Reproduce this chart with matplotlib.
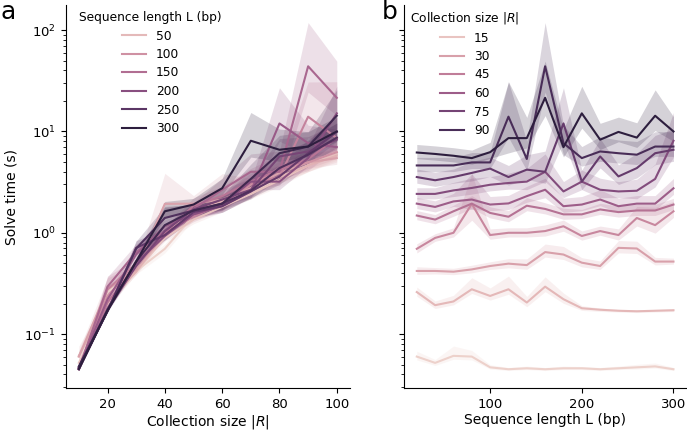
"""Solve time vs collection size / sequence length (two-panel log plot)."""

import matplotlib
matplotlib.use("Agg")
import matplotlib.pyplot as plt
from matplotlib.colors import Normalize
from matplotlib.lines import Line2D
import numpy as np
import seaborn as sns

# ── Data ──────────────────────────────────────────────────────────────────────
coll_size = [10, 20, 30, 40, 50, 60, 70, 80, 90, 100]
seq_len = [20, 40, 60, 80, 100, 120, 140, 160, 180, 200, 220, 240, 260, 280, 300]

# mean solve time (s): rows = collection size, cols = sequence length
solve_time = [
    [0.060, 0.052, 0.061, 0.060, 0.047, 0.045, 0.046, 0.045, 0.046, 0.046, 0.045, 0.046, 0.047, 0.048, 0.045],
    [0.26, 0.193, 0.21, 0.277, 0.238, 0.277, 0.205, 0.294, 0.221, 0.180, 0.174, 0.170, 0.168, 0.170, 0.172],
    [0.42, 0.42, 0.413, 0.435, 0.47, 0.496, 0.48, 0.645, 0.61, 0.507, 0.47, 0.71, 0.70, 0.52, 0.52],
    [0.695, 0.89, 1.0, 1.93, 0.95, 1.0, 1.0, 1.04, 1.16, 0.93, 1.04, 0.95, 1.4, 1.19, 1.63],
    [1.48, 1.35, 1.63, 1.94, 1.57, 1.44, 1.85, 1.72, 1.52, 1.52, 1.70, 1.60, 1.66, 1.66, 1.90],
    [1.94, 1.80, 2.04, 2.13, 1.90, 1.95, 2.30, 2.66, 1.83, 1.90, 2.13, 1.83, 1.94, 1.94, 2.75],
    [2.42, 2.42, 2.62, 2.77, 2.98, 3.10, 3.20, 4.00, 2.56, 3.20, 2.66, 2.56, 2.60, 3.40, 8.10],
    [3.55, 3.30, 3.55, 3.90, 4.30, 3.55, 4.20, 4.00, 12.0, 3.20, 5.67, 3.60, 4.35, 6.10, 6.60],
    [4.62, 4.62, 4.62, 4.95, 4.95, 14.0, 5.35, 44.0, 7.67, 5.46, 6.35, 6.10, 5.90, 7.10, 7.10],
    [6.20, 6.00, 5.76, 5.46, 6.25, 8.60, 8.60, 21.5, 7.00, 15.1, 8.30, 9.90, 8.70, 14.3, 10.0],
]

# 95% CI band: upper = mean * ci_hi, lower = mean / ci_lo
ci_hi = [
    [1.13, 1.08, 1.25, 1.15, 1.06, 1.04, 1.05, 1.04, 1.05, 1.04, 1.04, 1.05, 1.07, 1.08, 1.04],
    [1.12, 1.10, 1.15, 1.30, 1.20, 1.35, 1.15, 1.25, 1.15, 1.06, 1.04, 1.03, 1.03, 1.03, 1.03],
    [1.10, 1.08, 1.08, 1.10, 1.10, 1.12, 1.15, 1.20, 1.20, 1.12, 1.12, 1.18, 1.18, 1.10, 1.08],
    [1.12, 1.10, 1.12, 2.00, 1.15, 1.12, 1.12, 1.15, 1.15, 1.12, 1.12, 1.15, 1.30, 1.50, 1.25],
    [1.12, 1.12, 1.15, 1.20, 1.15, 1.15, 1.20, 1.15, 1.15, 1.12, 1.15, 1.15, 1.15, 1.15, 1.15],
    [1.15, 1.15, 1.20, 1.80, 1.20, 1.20, 1.25, 1.30, 1.20, 1.20, 1.25, 1.20, 1.20, 1.20, 1.25],
    [1.15, 1.15, 1.20, 1.25, 1.20, 1.25, 1.35, 1.50, 1.25, 1.30, 1.30, 1.25, 1.30, 1.40, 1.90],
    [1.20, 1.20, 1.20, 1.30, 1.30, 1.30, 1.40, 1.60, 2.25, 1.30, 1.50, 1.30, 1.40, 1.50, 1.60],
    [1.20, 1.20, 1.20, 1.25, 1.25, 2.20, 1.50, 2.70, 1.50, 1.30, 1.40, 1.35, 1.35, 1.40, 1.40],
    [1.20, 1.20, 1.20, 1.20, 1.25, 3.60, 1.60, 2.30, 1.50, 1.85, 1.45, 1.40, 1.40, 1.80, 1.40],
]
ci_lo = [
    [1.08, 1.06, 1.08, 1.08, 1.04, 1.03, 1.03, 1.03, 1.03, 1.03, 1.03, 1.03, 1.04, 1.04, 1.03],
    [1.10, 1.08, 1.08, 1.10, 1.10, 1.12, 1.10, 1.12, 1.10, 1.05, 1.04, 1.03, 1.03, 1.03, 1.03],
    [1.08, 1.07, 1.07, 1.08, 1.08, 1.10, 1.10, 1.12, 1.12, 1.10, 1.08, 1.12, 1.12, 1.08, 1.06],
    [1.10, 1.08, 1.10, 1.45, 1.10, 1.10, 1.10, 1.12, 1.12, 1.10, 1.10, 1.12, 1.20, 1.20, 1.15],
    [1.10, 1.10, 1.12, 1.12, 1.12, 1.12, 1.12, 1.12, 1.12, 1.10, 1.12, 1.12, 1.12, 1.12, 1.12],
    [1.12, 1.12, 1.12, 1.25, 1.15, 1.15, 1.15, 1.20, 1.15, 1.15, 1.15, 1.15, 1.15, 1.15, 1.15],
    [1.12, 1.12, 1.15, 1.15, 1.15, 1.15, 1.20, 1.25, 1.15, 1.20, 1.20, 1.15, 1.20, 1.20, 1.45],
    [1.15, 1.15, 1.15, 1.20, 1.20, 1.20, 1.25, 1.30, 1.50, 1.20, 1.30, 1.20, 1.25, 1.30, 1.30],
    [1.15, 1.15, 1.15, 1.15, 1.15, 1.60, 1.30, 1.80, 1.30, 1.20, 1.25, 1.25, 1.25, 1.25, 1.25],
    [1.15, 1.15, 1.15, 1.15, 1.15, 1.40, 1.25, 1.50, 1.25, 1.40, 1.25, 1.25, 1.25, 1.40, 1.25],
]

legend_L = [50, 100, 150, 200, 250, 300]
legend_R = [15, 30, 45, 60, 75, 90]

FS_LEG = 8.8
FS_LAB = 10
FS_TICK = 9.5
plt.rcParams.update({"font.size": FS_TICK, "font.family": "DejaVu Sans"})

T = np.array(solve_time)
lo = T / np.array(ci_lo)
hi = T * np.array(ci_hi)

cmap = sns.color_palette("ch:", as_cmap=True)
norm_L = Normalize(min(seq_len), max(seq_len))
norm_R = Normalize(min(coll_size), max(coll_size))

fig = plt.figure(figsize=(6.87, 4.32), dpi=100)
ax1 = fig.add_axes([0.096, 0.102, 0.413, 0.886])
ax2 = fig.add_axes([0.588, 0.102, 0.411, 0.886], sharey=ax1)

# ── a: time vs collection size, hue = sequence length ────────────────────────
for j, L in enumerate(seq_len):
    c = cmap(norm_L(L))
    ax1.plot(coll_size, T[:, j], color=c, lw=1.5)
    ax1.fill_between(coll_size, lo[:, j], hi[:, j], color=c, alpha=0.2, lw=0)

# ── b: time vs sequence length, hue = collection size ────────────────────────
for i, R in enumerate(coll_size):
    c = cmap(norm_R(R))
    ax2.plot(seq_len, T[i, :], color=c, lw=1.5)
    ax2.fill_between(seq_len, lo[i, :], hi[i, :], color=c, alpha=0.2, lw=0)

ax1.set_yscale("log")
ax1.set_xlabel("Collection size $|R|$", fontsize=FS_LAB, labelpad=1.5)
ax1.set_ylabel("Solve time (s)", fontsize=FS_LAB)
ax2.set_xlabel("Sequence length L (bp)", fontsize=FS_LAB, labelpad=1.5)
ax2.tick_params(labelleft=False)
ax1.set_xticks([20, 40, 60, 80, 100])
ax2.set_xticks([100, 200, 300])

for ax in (ax1, ax2):
    ax.spines["top"].set_visible(False)
    ax.spines["right"].set_visible(False)

h1 = [Line2D([], [], color=cmap(norm_L(v)), lw=1.5) for v in legend_L]
ax1.legend(h1, [str(v) for v in legend_L], title="Sequence length L (bp)",
           frameon=False, loc="upper left", borderpad=0, borderaxespad=0,
           labelspacing=0.45,
           bbox_to_anchor=(79 / 687, 1 - 11 / 432), bbox_transform=fig.transFigure,
           fontsize=FS_LEG, title_fontsize=FS_LEG)
h2 = [Line2D([], [], color=cmap(norm_R(v)), lw=1.5) for v in legend_R]
ax2.legend(h2, [str(v) for v in legend_R], title="Collection size $|R|$",
           frameon=False, loc="upper left", borderpad=0, borderaxespad=0,
           labelspacing=0.45,
           bbox_to_anchor=(410 / 687, 1 - 10 / 432), bbox_transform=fig.transFigure,
           fontsize=FS_LEG, title_fontsize=FS_LEG)

fig.text(0.0, 1.0, "a", fontsize=18, va="top")
fig.text(0.556, 1.0, "b", fontsize=18, va="top")

fig.savefig("out.png", dpi=100)
